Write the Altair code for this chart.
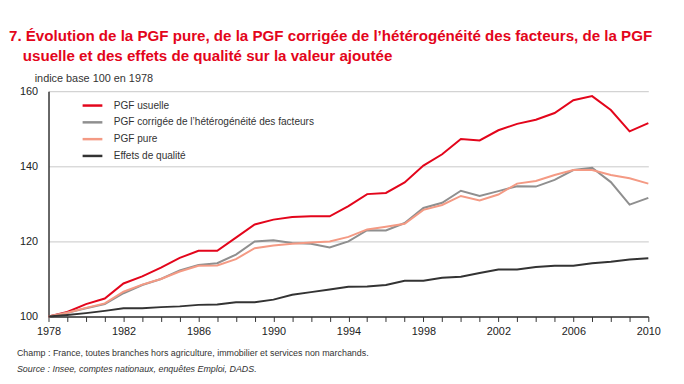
import altair as alt
import pandas as pd

years = list(range(1978, 2011))
usuelle = [100, 101.2, 103.3, 104.8, 108.8, 110.7, 113, 115.6, 117.5, 117.5,
           121, 124.5, 125.8, 126.5, 126.7, 126.7, 129.4, 132.6, 132.9, 135.7,
           140.2, 143.2, 147.3, 146.9, 149.6, 151.3, 152.4, 154.2, 157.6, 158.7,
           155, 149.3, 151.5]
corrigee = [100, 101, 102.2, 103.3, 106.2, 108.4, 110, 112.3, 113.7, 114.2,
            116.5, 120, 120.3, 119.6, 119.4, 118.4, 120, 123, 122.9, 124.9,
            128.9, 130.3, 133.5, 132.1, 133.4, 134.7, 134.6, 136.4, 139, 139.6,
            135.8, 129.8, 131.6]
pure = [100, 101, 102.3, 103.5, 106.6, 108.5, 110, 112, 113.5, 113.6,
        115.3, 118.2, 118.9, 119.4, 119.7, 120, 121.2, 123.2, 123.9, 124.7,
        128.4, 129.7, 132.1, 130.9, 132.5, 135.4, 136.1, 137.7, 139, 139,
        137.7, 136.8, 135.4]
qualite = [100, 100.4, 100.9, 101.5, 102.2, 102.2, 102.5, 102.7, 103.1, 103.2,
           103.8, 103.8, 104.5, 105.8, 106.5, 107.2, 107.9, 108, 108.4, 109.5,
           109.5, 110.3, 110.6, 111.6, 112.5, 112.5, 113.2, 113.5, 113.5, 114.2,
           114.6, 115.2, 115.5]

series_names = ["PGF usuelle",
                "PGF corrigée de l’hétérogénéité des facteurs",
                "PGF pure",
                "Effets de qualité"]
colors = ["#e3051b", "#8f8f8f", "#f49a84", "#333333"]
y_ticks = [100, 120, 140, 160]

title1 = "7. Évolution de la PGF pure, de la PGF corrigée de l’hétérogénéité des facteurs, de la PGF"
title2 = "usuelle et des effets de qualité sur la valeur ajoutée"
unit_label = "indice base 100 en 1978"
note1 = "Champ : France, toutes branches hors agriculture, immobilier et services non marchands."
note2 = "Source : Insee, comptes nationaux, enquêtes Emploi, DADS."

rows = []
for name, vals in zip(series_names, [usuelle, corrigee, pure, qualite]):
    for yr, v in zip(years, vals):
        rows.append({"annee": yr, "valeur": v, "serie": name})
df = pd.DataFrame(rows)

FONT = "Liberation Sans, Arial, sans-serif"

lines = alt.Chart(df).mark_line(strokeWidth=2).encode(
    x=alt.X("annee:Q",
            scale=alt.Scale(domain=[1978, 2010], nice=False, zero=False),
            axis=alt.Axis(title=None, values=years, format="d",
                          labelExpr="datum.value % 4 == 2 ? format(datum.value, 'd') : ''",
                          tickSize=5, tickColor="#333", domainColor="#333",
                          domainWidth=1.5, tickWidth=1, grid=False,
                          labelFontSize=11, labelFont=FONT, labelColor="#222",
                          labelPadding=4, labelFlush=False)),
    y=alt.Y("valeur:Q",
            scale=alt.Scale(domain=[100, 160], nice=False, zero=False),
            axis=alt.Axis(title=None, values=y_ticks, grid=True, gridColor="#c8c8c8",
                          ticks=False, domainColor="#333", domainWidth=1.5,
                          labelFontSize=11, labelFont=FONT, labelColor="#222",
                          labelPadding=11)),
    color=alt.Color("serie:N",
                    scale=alt.Scale(domain=series_names, range=colors),
                    sort=series_names,
                    legend=alt.Legend(title=None, orient="none", legendX=33, legendY=3,
                                      symbolType="stroke", symbolSize=400,
                                      symbolStrokeWidth=2.5, labelFontSize=10.2,
                                      labelFont=FONT, labelColor="#333", labelLimit=0,
                                      rowPadding=-2, labelOffset=10, padding=0)),
)


def txt(s, x, y, size, color="#333", weight="normal", style="normal"):
    return alt.Chart(pd.DataFrame({"t": [s]})).mark_text(
        align="left", baseline="alphabetic", fontSize=size, font=FONT,
        color=color, fontWeight=weight, fontStyle=style
    ).encode(text="t:N", x=alt.value(x), y=alt.value(y))


chart = alt.layer(
    lines,
    txt(title1, -40, -51, 15.3, color="#e3051b", weight="bold"),
    txt(title2, -26, -31, 15.3, color="#e3051b", weight="bold"),
    txt(unit_label, -14, -9, 11, color="#333"),
    txt(note1, -32, 268, 9, color="#333"),
    txt(note2, -32, 284, 9, color="#333", style="italic"),
).properties(
    width=607, height=228,
    autosize=alt.AutoSizeParams(type="none"),
    padding={"left": 41, "top": 82, "right": 28, "bottom": 60},
).configure_view(stroke=None)

chart.save("out.html", embed_options={"renderer": "svg", "actions": False})
